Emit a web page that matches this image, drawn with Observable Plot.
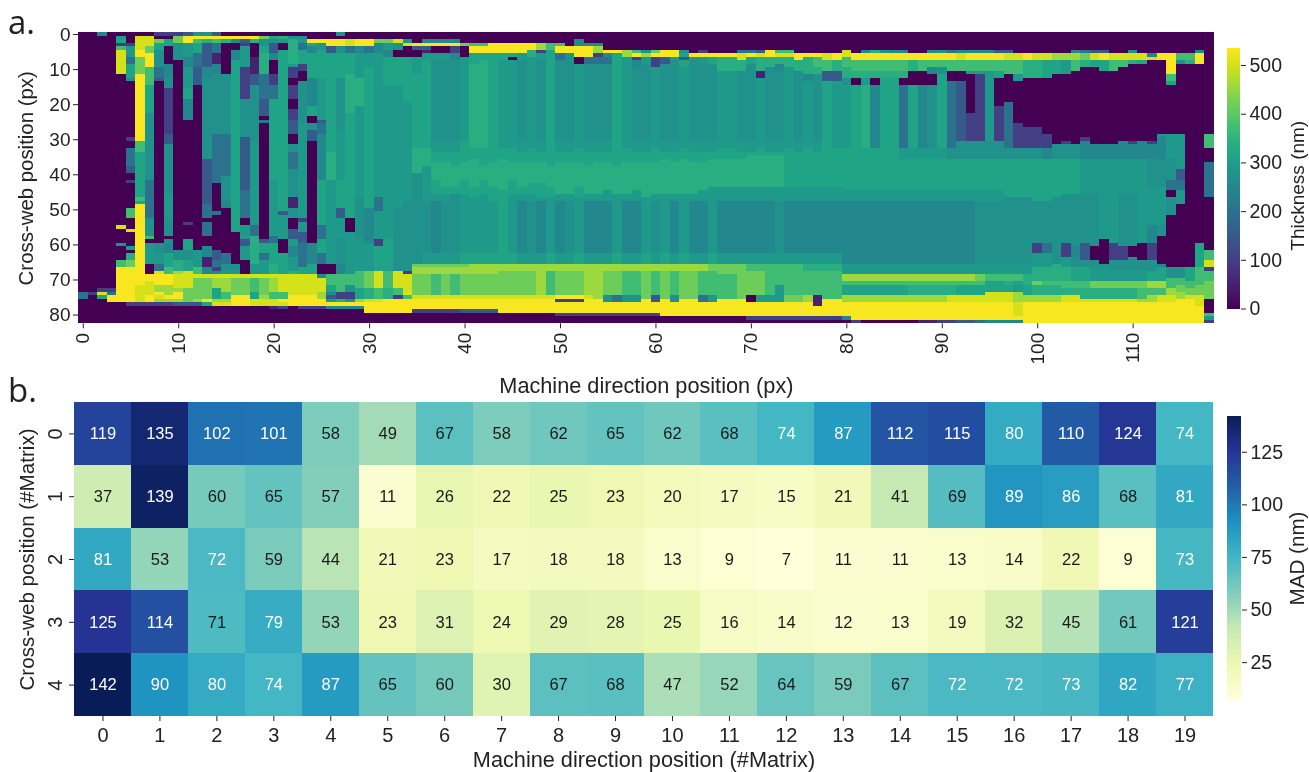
<!DOCTYPE html>
<html><head><meta charset="utf-8">
<script src="https://cdn.jsdelivr.net/npm/d3@7"></script>
<script src="https://cdn.jsdelivr.net/npm/@observablehq/plot@0.6"></script>
<style>
html,body{margin:0;padding:0;background:#fff}
#root{position:relative;width:1309px;height:772px;overflow:hidden;font-family:"Liberation Sans",Arial,sans-serif;color:#222;filter:blur(0.4px)}
#root svg{position:absolute;background:transparent;overflow:visible}
.tag{position:absolute;font-family:"Open Sans",sans-serif;font-size:33px;line-height:40px;color:#222}
</style></head><body><div id="root">
<div class="tag" style="left:8px;top:2px">a.</div>
<div class="tag" style="left:8px;top:370px">b.</div>
</div>
<script>
// Panel a: thickness (nm), one string per machine-direction column.
// Each token = level letter + exclusive end row.
const thicknessLevels = {a:0,b:50,c:100,d:150,e:200,f:250,g:268,h:290,i:312,j:335,k:370,l:415,m:455,n:500,o:530};
const thicknessColumns = [
"a74e76a83","a74c75a83","f1a73c74n75i76a83","a73c74e75o77a83",
"a1h2i3c4k5n12a55n56a60g61a65k67o77a83",
"a3c4h7e9i13g14a30c31a33e38d40a42c43a50k53a56n57a61h62a63j65l67o77c78a83",
"a1n5o7l12o31k34i47k48i49o72n77c78a83",
"a1n4l6o10k15i23g42e53g58k59a60h66a69o71n75o77c78a83",
"c1a2l3i5g10e13d14a60g63h66e68n69o72m74o75n76m77c78a83",
"c1a2i4a9f13g16c29d32g46h53g58a59g60f63i67k69o72m75o76m77c78a83",
"c1l3g8a62g65j68m69n73m74o76m77d78a83",
"d1o3h7f10h16i19f25a54c55a59i62g65i68n73l77d78a83",
"g1o2k3i6e10d15a62h67k69n70l76m77d78a83",
"g1o2j3d10f13g36d49e53a54e58a61f64b67f69n70l76o77i78a83",
"d1o2k3e6b9f12g29e43a51e52a62d65e67c68f69n70m73i76m77n78a83",
"a1o2j3a12g29e41g48f50a63e66g68h69n70m74k76m77n78a83",
"a1o2f3a5f8i57a66g68h69n70l75o78a83",
"a1o2d3c4h10c19g30d45e53a55h59d61h65a69n70l75o78a83",
"a1o2j3a7b12d15g31h55e58j66h69n70k74i76n78a83",
"a1l2g4i6j12e19d24a25e26a59d60i63e65h69n70l75m76n78a83",
"a1i2g3d6f8a12c15e19i42h58e60i66j69n70m74k76n78b79a83",
"a1j2h3a5i51d52h59a63i69n74k76o77n78c79a83",
"a1g2j9h10c13a15c19a22c25d29a32g34e39g47b50g53a56d59h61f64h68j69n75o78a83",
"a1g2h3e5i9c11a14g26h53c54h57d60e67i69n75o78c79a83",
"a2o3i4f6i13f21i24a26g28d31a60f66i69n75o78c79a83",
"a2o3g5i13h25d26e29f42i55e59i63e66a69f70n74m76o78c79a83",
"a2o4d6i34j42h66a69k72i74f75d76h77o78f79a83",
"g1a2o4g6i13g28h42i50d53h59g66f69k74c76j77o78f79a83",
"a2n4e6i12j23i53a57h69k72g74c76g77o78f79a83",
"a2o4f6h13j21h47g59h68k73i76m77o78f79a83",
"a2o4e6h10i50f60h68l73j76n77o80a83",
"a2l3f6h47e51h59c61i68n73k76n77o80a83",
"a2l3h5f7i15h59i68k73j76o80a83",
"a2n3g5a7i15h50g68n73k75c76o80a83",
"a2g3n4a7i20h48g68c69n75k76o80a83",
"a3o4d5a7h12i33j40g66l67m69l75n76o79c80a83",
"a2f3o4d5b6h8i33j38h48g63h66l67m69l75n76o79c80a83",
"a2f3o4a6h8g31h34i37j42i46h48f63h66l67m69k75n76o79c80a83",
"a2f3o4a6h8g31h34i37j44i46h48g63h66l67m69l75n76o79c80a83",
"a2f3o4c6f8g31h34i38j44i46g63h66l67m69k75n76o79c80a83",
"a3l4a7h10h31i37j42i46h63i66l67m69l75n76o79d80a83",
"a3k4o6i9j33i36j44i47h63i66m69l75n76o79d80a83",
"a3k4o6i8j33i38j42i46h63i66m69l75n76o79d80a83",
"a3o6i8i33i37j44i48h63i66m69l75n76o79d80a83",
"a3o6i8h33i36j45i48i63i66m68l75n76o80a83",
"a3o6i7a8h33i37j42i46h63i66m68l75n76o80a83",
"a3o6h8g31h34i37j44i46h48f63h66m68l75n76o80a83",
"a3o5j7h33i37j43i46h48g63h66m68l75n76o80a83",
"a3m5c6h8g31h34i37j43i47h48f63h66m68m75n76o80a83",
"a3k5i7i33i38j44i47h63i66m68k75n76o80a83",
"a3k4o6e8g31h34i37j46h48f63h66m68l75o76c77o80c81a83",
"a4o6g8g31h34i37j46h48g63h66m68l75o76c77o80c81a83",
"a2f4o7a9h33i37j44i47h63i66m68l75o76c77o80c81a83",
"a3f4o7e9g31h34i38j46h48f63h66m68m75n76o80c81a83",
"a3f4m6c7e9g31h34i37j46h48f63h66m68m76o80c81a83",
"a5o6f7e9g31h34i37j45h48f63h66m68l75g77o80c81a83",
"a5o6i9i33i38j46h63i66m68l75e77o80c81a83",
"a5m7h9h33i37j46h48f63h66m68k75g77o80c81a83",
"a5k6o7c8f10g31h34i37j45h48f63h66m68k75g77o80c81a83",
"a5g6m7h9g31h34i37j47h63i66m68l76o80c81a83",
"a5l6o7c10h33i37j46h48g63h66m68k75d77o80c81a83",
"a5o7d9g31h34i36j46h63i66m68l76o81a83",
"a5o7h8g31h34i37j46h48f63h66m68k75g77o81a83",
"a5g6i7d8i10h33i36j46h63i66m68l76o81a83",
"a6o7h8g31h34i37j46h48f63h66m68l76o81a83",
"a5c6o7h9g31h34i37j45h48f63h66m68k75e77o81a83",
"a6o7i9g31h34i36j44h63i66l68k75h77o81a83",
"a6o7j11h33i36j44h48f63h66l69k76o81a83",
"a6o7j11h33i36j44h48f63h66l69k76o81a83",
"a5e6n8j11g31h34i36j44h48f63h66l69l76o81a83",
"a5e6o7i9g31h34i35j44h48f63h66k68l75a77o81c82a83",
"a5d6n7j11b13h33i35j44h48f63h66k68l75h77o81c82a83",
"a5o7j10g31h34i35j44h48f63h66k68k75h77o81c82a83",
"a5k6n7j9f11g31h34i35j44h48g63h66k68k72h77o81c82a83",
"a5k6n7j10h33i35i44h48f63h66k68k75l77o81c82a83",
"a6o8j11g31h34i35i44h48f63h66k68k75l77o81c82a83",
"a6o7j12f14h33i35i44h48f63h66j68k75m77o81c82a83",
"a6o7k10j12g31h34i35i44h48f63h66j68k75b78o81c82a83",
"a6n8k11d14i35i44h48f63h66j68k76o81c82a83",
"a6o8j11d14h33i35i44h48f63h66j68k76o81c82a83",
"a5n7k10j13g15h33i45h48f66h69m71k72i75m77o81f82a83",
"a6o8k11j13a15i45h48f66h69m71k72i75m77o82c83",
"a5f6o8k11j13h15j33i45h48f66h69m71k72i75m77o82a83",
"a5j6o8k11j13a15f33i45h48f66h69m71k72i75m77o82a83",
"a5g6o8k11j13i45h48f66h69m71k72i75m77o82a83",
"a5f6o8k11j13i45h48f66h69m71k72i75m77o82a83",
"a5f6o8k11j13a15e33h36i45h48f66h69m71k72i75m77o82a83",
"a6o8j11a15i33h36i45h48f66h69m71k72j75m77o82a83",
"a6o8k11a15f33h36i45h48f66h69m71k72j75m77o82b83",
"a5f6o8k10f12a15g33h36i45h48f66h69m71k72j75m77o82b83",
"a5g6o8k10g12i33h36i45h48f66h69m71k72j75m77o82c83",
"a5e6o8k11a14e33g36i45h48f66h69m71k72j75n77o82c83",
"a5f6n8k11a14d31g36i45h48f66h69m71k72i75n77o82d83",
"a5f6o8k11h12a23c31g36i45h48f66h69m71k72i75n77o82d83",
"a5f6o8k11h12c31g36i45h48g66h69l71k72i75n77o82e83",
"a5f6o8k11h13h31g36i45h48g66h69k71i74n77o82f83",
"a5d6o8k11i13a21c31g36i45h48g66h69k71i74n77o82f83",
"a5d6n8k12a20e33g36i47g66h69k71j72i74n77o82f83",
"a6n8k12h14a26c33g36i47g66h69k71i72h74m77n81o82f83",
"a6o8j13a27c33g36i47g66h69j72i75m77o83",
"a6n8j13a27c33g36i48g60c63h67j71l72j75m77o83",
"a6n8i13a29c33f36i48g60e63h67j71k72j75m77o83",
"a6m8i12a32g36i47g66j71k72j75m77o83",
"a6m8h12a31c32g36i46g60c64h67j71k73j75n77o83",
"a5f6m8k11a32g36i46g61f64g67i71k73j75n77o83",
"a5e6l8j10a30c31f36h46g60d65g67i71k73j76n77o83",
"a5d6n8i10a32f36h46g61a65g67h71l73j76n77o83",
"a5d6o8i11a32f36h46h59a66g67h71l73j76n77o83",
"a6n8k11a32f36h46h60c65g68h71l73j76n77o83",
"a6n8k10a31f36h46g61c65g68h71l73j76n77o83",
"a5g6n8j9a31c32f36h46g61a64g68h71l73j76n77o83",
"a6n8i9a31f36h46h60a65g68h71l73k76m77o83",
"a6f7n8a31c32f36g44h55f60c65g68i71m73k75m77o83",
"a6o8a29g30f36g44h55g58a66f67i71m73k75n77o83",
"a6o12k14i15a29h36g42e45a47g52a67g70k73m75n77o83",
"a6k8g9a29h39d42e45h49a67g70k72l74m76o83",
"a6k8j9a67i71k73l75n76o83",
"a5f6o9a60i67k72l75n78o83",
"a29k33a37e47a62k65n67c68k71l76a80k81h82c83"
];
const thicknessTicksX = [0,10,20,30,40,50,60,70,80,90,100,110];
const thicknessTicksY = [0,10,20,30,40,50,60,70,80];
const thicknessBarTicks = [0,100,200,300,400,500];

// Panel b: MAD (nm)
const madRow0 = [119,135,102,101,58,49,67,58,62,65,62,68,74,87,112,115,80,110,124,74];
const madRow1 = [37,139,60,65,57,11,26,22,25,23,20,17,15,21,41,69,89,86,68,81];
const madRow2 = [81,53,72,59,44,21,23,17,18,18,13,9,7,11,11,13,14,22,9,73];
const madRow3 = [125,114,71,79,53,23,31,24,29,28,25,16,14,12,13,19,32,45,61,121];
const madRow4 = [142,90,80,74,87,65,60,30,67,68,47,52,64,59,67,72,72,73,82,77];
const madRows = [madRow0,madRow1,madRow2,madRow3,madRow4];
const madBarTicks = [25,50,75,100,125];
const ylgnbu = ["#ffffd9","#edf8b1","#c7e9b4","#7fcdbb","#41b6c4","#1d91c0","#225ea8","#253494","#081d58"];

const thickness = [];
thicknessColumns.forEach((s,c)=>{
  let start=0;
  for(const m of s.matchAll(/([a-o])(\d+)/g)){
    const end=+m[2];
    for(let r=start;r<end;r++) thickness.push({c,r,v:thicknessLevels[m[1]]});
    start=end;
  }
});
const mad = madRows.flatMap((row,r)=>row.map((v,c)=>({c,r,v})));

const font={fontFamily:"'Liberation Sans',Arial,sans-serif",color:"#222",background:"transparent",overflow:"visible"};
const viridis={type:"linear",scheme:"viridis",domain:[0,535]};
const madColor={type:"linear",domain:d3.range(9).map(i=>7+i*(142-7)/8),range:ylgnbu,interpolate:"rgb"};
const root=document.getElementById("root");
function place(svg,l,t){svg.style.left=l+"px";svg.style.top=t+"px";root.appendChild(svg);}
const xTitle=(t,dy,fs)=>Plot.text([t],{frameAnchor:"bottom",lineAnchor:"middle",textAnchor:"middle",dy,fontSize:fs,fill:"#222"});
const yTitle=(t,dx,dy,fs)=>Plot.text([t],{frameAnchor:"left",lineAnchor:"middle",textAnchor:"middle",rotate:-90,dx,dy,fontSize:fs,fill:"#222"});

// Panel a
place(Plot.plot({
  width:1309,height:400,marginLeft:78,marginRight:95.2,marginTop:32.3,marginBottom:76.7,
  style:font,
  x:{domain:[-0.5,118.5]},
  y:{domain:[82.5,-0.5]},
  color:viridis,
  marks:[
    Plot.rect(thickness,{x1:d=>d.c-.5,x2:d=>d.c+.5,y1:d=>d.r-.5,y2:d=>d.r+.5,fill:"v",shapeRendering:"crispEdges"}),
    Plot.axisX({ticks:thicknessTicksX,tickSize:5,tickPadding:4,tickRotate:-90,fontSize:19,tickFormat:d=>d,label:null}),
    Plot.axisY({ticks:thicknessTicksY,tickSize:5,tickPadding:3,fontSize:19,tickFormat:d=>d,label:null}),
    xTitle("Machine direction position (px)",62,21.7),
    yTitle("Cross-web position (px)",-52,0,20.4)
  ]
}),0,0);

// Panel a colour bar
place(Plot.plot({
  width:82,height:320,marginLeft:0,marginRight:69,marginTop:48,marginBottom:11.5,
  style:font,
  x:{domain:[0,1],axis:null},
  y:{domain:[0,535]},
  color:viridis,
  marks:[
    Plot.rect(d3.range(0,535,2),{x1:0,x2:1,y1:d=>d,y2:d=>d+2,fill:d=>d,shapeRendering:"crispEdges"}),
    Plot.axisY({anchor:"right",ticks:thicknessBarTicks,tickSize:5,tickPadding:4,fontSize:19.5,tickFormat:d=>d,label:null}),
    Plot.text(["Thickness (nm)"],{frameAnchor:"right",lineAnchor:"middle",textAnchor:"middle",dx:57,dy:7,rotate:-90,fontSize:19,fill:"#222"})
  ]
}),1227,0);

// Panel b
place(Plot.plot({
  width:1309,height:772,marginLeft:74,marginRight:96,marginTop:402,marginBottom:56,
  style:font,
  x:{type:"band",domain:d3.range(20),padding:0,round:false},
  y:{type:"band",domain:d3.range(5),padding:0,round:false},
  color:madColor,
  marks:[
    Plot.cell(mad,{x:"c",y:"r",fill:"v",shapeRendering:"crispEdges"}),
    Plot.text(mad.filter(d=>d.v>=72),{x:"c",y:"r",text:"v",fill:"white",fontSize:16.5}),
    Plot.text(mad.filter(d=>d.v<72),{x:"c",y:"r",text:"v",fill:"#1a1a1a",fontSize:16.5}),
    Plot.axisX({tickSize:5,tickPadding:6,fontSize:20,label:null}),
    Plot.axisY({tickSize:5,tickPadding:8,tickRotate:-90,fontSize:20,label:null}),
    xTitle("Machine direction position (#Matrix)",44,21.7),
    yTitle("Cross-web position (#Matrix)",-47,0,20.6)
  ]
}),0,0);

// Panel b colour bar
place(Plot.plot({
  width:82,height:772,marginLeft:0,marginRight:68,marginTop:416,marginBottom:72,
  style:font,
  x:{domain:[0,1],axis:null},
  y:{domain:[7,142]},
  color:madColor,
  marks:[
    Plot.rect(d3.range(7,142,1),{x1:0,x2:1,y1:d=>d,y2:d=>d+1,fill:d=>d,shapeRendering:"crispEdges"}),
    Plot.axisY({anchor:"right",ticks:madBarTicks,tickSize:5,tickPadding:4,fontSize:19.5,tickFormat:d=>d,label:null}),
    Plot.text(["MAD (nm)"],{frameAnchor:"right",lineAnchor:"middle",textAnchor:"middle",dx:56,rotate:-90,fontSize:20.6,fill:"#222"})
  ]
}),1227,0);
</script></body></html>
